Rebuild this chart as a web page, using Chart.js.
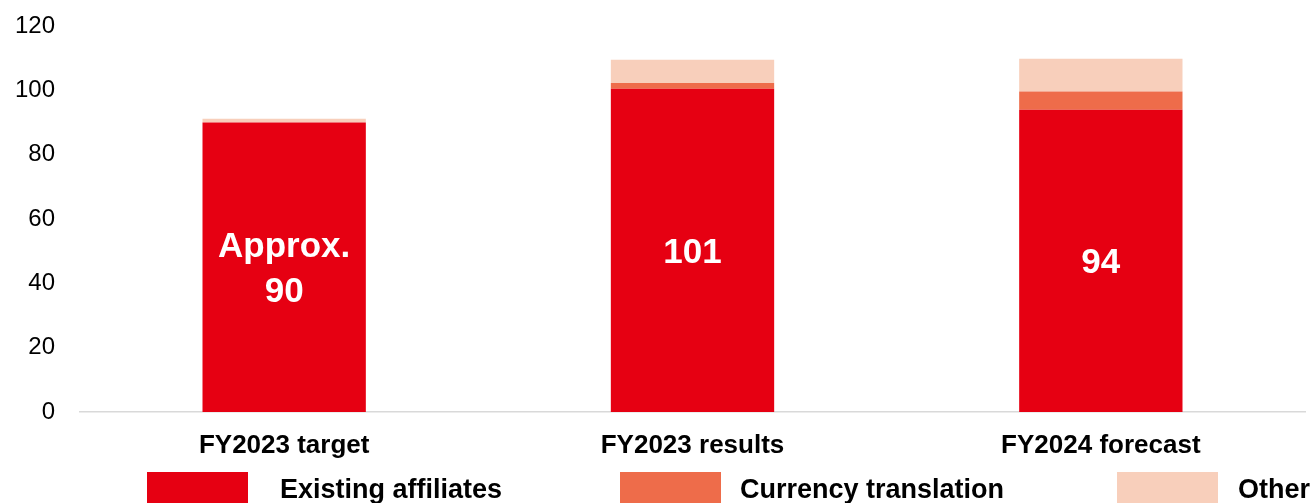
<!DOCTYPE html>
<html>
<head>
<meta charset="utf-8">
<script src="https://cdn.jsdelivr.net/npm/chart.js@4/dist/chart.umd.min.js"></script>
<style>
    html, body { margin: 0; padding: 0; background: #fff; }
    #wrap { width: 1315px; height: 503px; position: relative; }
</style>
</head>
<body>
<div id="wrap"><canvas id="chart-affiliates"></canvas></div>
<script>
// data
const categories = ["FY2023 target", "FY2023 results", "FY2024 forecast"];
const existingAffiliates = [90, 100.5, 94];
const currencyTranslation = [0, 1.8, 5.6];
const other = [1.2, 7.2, 10.2];
const barLabels = [["Approx.", "90"], ["101"], ["94"]];
const yTicks = [0, 20, 40, 60, 80, 100, 120];

const colors = ["#E60012", "#EE6C4A", "#F8CFBB"];
const fontFamily = "Arial, 'Liberation Sans', sans-serif";

// label putih di tengah batang merah
const barLabelPlugin = {
    id: "barLabels",
    afterDatasetsDraw(chart) {
        const ctx = chart.ctx;
        const meta = chart.getDatasetMeta(0);
        ctx.save();
        ctx.fillStyle = "#fff";
        ctx.font = "bold 35px " + fontFamily;
        ctx.textAlign = "center";
        ctx.textBaseline = "middle";
        meta.data.forEach((bar, i) => {
            const lines = barLabels[i];
            const lineHeight = 45;
            const mid = (bar.y + bar.base) / 2 + 3;
            const start = mid - ((lines.length - 1) * lineHeight) / 2;
            lines.forEach((line, j) => {
                ctx.fillText(line, bar.x, start + j * lineHeight);
            });
        });
        ctx.restore();
    },
};

// legend di bawah, kotak lebar seperti di gambar
const legendBoxX = [147, 620, 1117];
const legendTextX = [280, 740, 1238];
const bottomLegendPlugin = {
    id: "bottomLegend",
    afterDraw(chart) {
        const ctx = chart.ctx;
        ctx.save();
        ctx.font = "bold 27px " + fontFamily;
        ctx.textBaseline = "alphabetic";
        ctx.textAlign = "left";
        chart.data.datasets.forEach((ds, i) => {
            ctx.fillStyle = ds.backgroundColor;
            ctx.fillRect(legendBoxX[i], 472, 101, 31);
            ctx.fillStyle = "#000";
            ctx.fillText(ds.label, legendTextX[i], 498);
        });
        ctx.restore();
    },
};

const config = {
    type: "bar",
    data: {
        labels: categories,
        datasets: [
            { label: "Existing affiliates", data: existingAffiliates, backgroundColor: colors[0] },
            { label: "Currency translation", data: currencyTranslation, backgroundColor: colors[1] },
            { label: "Other", data: other, backgroundColor: colors[2] },
        ].map((ds) => ({ ...ds, categoryPercentage: 1, barPercentage: 0.4, borderWidth: 0 })),
    },
    options: {
        responsive: true,
        maintainAspectRatio: false,
        animation: false,
        layout: {
            padding: { top: 26, right: 10, bottom: 0, left: 0 },
        },
        scales: {
            x: {
                stacked: true,
                grid: { display: false, drawTicks: false },
                border: { display: true, color: "#D9D9D9", width: 1.5 },
                ticks: {
                    color: "#000",
                    padding: 18,
                    font: { family: fontFamily, size: 26, weight: "bold" },
                },
                afterFit(scale) {
                    scale.height = 91;
                },
            },
            y: {
                stacked: true,
                min: yTicks[0],
                max: yTicks[yTicks.length - 1],
                grid: { display: false, drawTicks: false },
                border: { display: false },
                ticks: {
                    stepSize: 20,
                    color: "#000",
                    padding: 25,
                    font: { family: fontFamily, size: 24 },
                },
                afterFit(scale) {
                    scale.width = 80;
                    scale.paddingTop = 0;
                    scale.paddingBottom = 0;
                },
            },
        },
        plugins: {
            legend: { display: false },
            tooltip: { enabled: false },
        },
    },
    plugins: [barLabelPlugin, bottomLegendPlugin],
};

const canvas = document.getElementById("chart-affiliates");
canvas.chart = new Chart(canvas, config);
</script>
</body>
</html>
